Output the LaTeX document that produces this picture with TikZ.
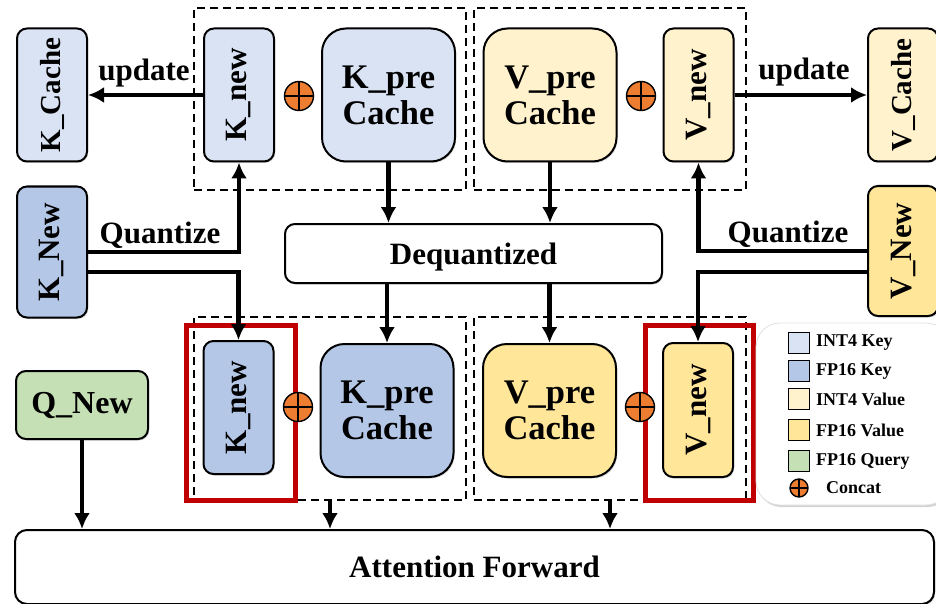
\documentclass[tikz,border=0pt]{standalone}
\usepackage{graphicx}
\usepackage{fontspec}
\setmainfont{Liberation Serif}
\usetikzlibrary{arrows.meta,shadows}

\definecolor{kint}{HTML}{DAE3F3}
\definecolor{kfp}{HTML}{B4C7E7}
\definecolor{vint}{HTML}{FFF2CC}
\definecolor{vfp}{HTML}{FFE699}
\definecolor{qfp}{HTML}{C5E0B4}
\definecolor{catorange}{HTML}{ED7D31}
\definecolor{hlred}{HTML}{C00000}

\tikzset{
  box/.style={draw, line width=2pt, rounded corners=10pt, inner sep=0pt,
    font=\bfseries\fontsize{31}{35}\selectfont,
    drop shadow={shadow xshift=1.2pt, shadow yshift=-1.5pt, opacity=0.3}},
  slim/.style={box, minimum width=70pt, minimum height=133pt},
  cache/.style={box, rounded corners=24pt, minimum width=133pt, minimum height=133pt,
    align=center, font=\bfseries\fontsize{34.5}{36}\selectfont},
  grp/.style={draw, line width=2.2pt, dash pattern=on 8pt off 5pt, inner sep=0pt},
  hl/.style={draw=hlred, line width=5pt, inner sep=0pt},
  flow/.style={line width=4.2pt, -{Latex[length=16pt,width=16pt]}},
  lab/.style={font=\bfseries\fontsize{31}{35}\selectfont, inner sep=0pt},
  cat/.style={circle, draw, line width=1.4pt, fill=catorange, minimum size=29pt, inner sep=0pt,
    path picture={\draw[line width=1.4pt] (path picture bounding box.north) -- (path picture bounding box.south)
      (path picture bounding box.west) -- (path picture bounding box.east);}},
  key/.style={draw, line width=1.4pt, minimum width=21pt, minimum height=21pt, inner sep=0pt},
  keytext/.style={anchor=west, inner sep=0pt, font=\bfseries\fontsize{18}{20}\selectfont},
}

\begin{document}
\begin{tikzpicture}[x=1pt, y=-1pt]
  \useasboundingbox (0,0) rectangle (936,604);

  % dashed groups and highlights
  \node[grp, minimum width=272pt, minimum height=182pt] (grpKQ) at (330,99) {};
  \node[grp, minimum width=272pt, minimum height=182pt] (grpVQ) at (610,99) {};
  \node[grp, minimum width=272pt, minimum height=183pt] (grpKF) at (330,408.5) {};
  \node[grp, minimum width=272pt, minimum height=183pt] (grpVF) at (610,408.5) {};
  \node[hl, minimum width=109pt, minimum height=175pt] (hlK) at (240.5,412.5) {};
  \node[hl, minimum width=108pt, minimum height=175pt] (hlV) at (699,412.5) {};

  % top row
  \node[slim, fill=kint, font=\bfseries\fontsize{29}{33}\selectfont] (kCache) at (52,95) {\rotatebox{90}{K\_Cache}};
  \node[slim, fill=kint] (kNewQ) at (239,95) {\rotatebox{90}{K\_new}};
  \node[cat] (catKQ) at (299,96) {};
  \node[cache, fill=kint] (kPreQ) at (388.5,95) {K\_pre\\Cache};
  \node[cache, fill=vint] (vPreQ) at (550,95) {V\_pre\\Cache};
  \node[cat] (catVQ) at (641,96) {};
  \node[slim, fill=vint] (vNewQ) at (698.5,95) {\rotatebox{90}{V\_new}};
  \node[slim, fill=vint, font=\bfseries\fontsize{29}{33}\selectfont] (vCache) at (903,95) {\rotatebox{90}{V\_Cache}};

  % inputs
  \node[slim, fill=kfp, minimum height=131pt] (kNewIn) at (52,252) {\rotatebox{90}{K\_New}};
  \node[slim, fill=vfp, minimum height=130pt] (vNewIn) at (903,251) {\rotatebox{90}{V\_New}};
  \node[box, fill=white, minimum width=377pt, minimum height=59pt, text depth=0pt] (deq) at (473.5,253.5) {Dequantized};

  % bottom row
  \node[slim, fill=kfp] (kNewF) at (238.5,407.5) {\rotatebox{90}{K\_new}};
  \node[cat] (catKF) at (298,407) {};
  \node[cache, fill=kfp] (kPreF) at (387,410.5) {K\_pre\\Cache};
  \node[cache, fill=vfp] (vPreF) at (549.5,410.5) {V\_pre\\Cache};
  \node[cat] (catVF) at (640,407) {};
  \node[slim, fill=vfp, minimum height=134pt] (vNewF) at (698,410) {\rotatebox{90}{V\_new}};
  \node[box, fill=qfp, minimum width=132pt, minimum height=68pt, font=\bfseries\fontsize{32}{35}\selectfont] (qNew) at (82,405) {Q\_New};
  \node[box, fill=white, rounded corners=12pt, minimum width=919pt, minimum height=74pt,
    drop shadow={opacity=0}] (attn) at (474.5,567) {Attention Forward};

  % legend
  \node[draw=black!12, line width=0.8pt, fill=white, rounded corners=24pt, minimum width=194pt,
    minimum height=182pt, drop shadow={shadow xshift=1.5pt, shadow yshift=-2pt, opacity=0.35}] (legend) at (853,414) {};
  \node[key, fill=kint] (lgKint) at (799,343) {};
  \node[keytext] (lgKintT) at (816,343) {INT4 Key};
  \node[key, fill=kfp] (lgKfp) at (799,371) {};
  \node[keytext] (lgKfpT) at (816,371) {FP16 Key};
  \node[key, fill=vint] (lgVint) at (799,399) {};
  \node[keytext] (lgVintT) at (816,399) {INT4 Value};
  \node[key, fill=vfp] (lgVfp) at (799,430) {};
  \node[keytext] (lgVfpT) at (816,430) {FP16 Value};
  \node[key, fill=qfp] (lgQfp) at (799,461) {};
  \node[keytext] (lgQfpT) at (816,461) {FP16 Query};
  \node[cat, minimum size=18pt] (lgCat) at (799,488) {};
  \node[keytext] (lgCatT) at (826,488) {Concat};

  % connectors
  \draw[flow] (kNewQ.west) -- (kCache.east);
  \draw[flow] (vNewQ.east) -- (vCache.west);
  \node[lab, anchor=base] (updK) at (144,81) {update};
  \node[lab, anchor=base] (updV) at (804,80) {update};

  \draw[flow] (kNewIn.east) -| (kNewQ.south);
  \draw[flow] ([yshift=-20pt]kNewIn.east) -| (kNewF.north);
  \draw[flow] (vNewIn.west) -| (vNewQ.south);
  \draw[flow] ([yshift=-21pt]vNewIn.west) -| (vNewF.north);
  \node[lab, anchor=base] (qtzK) at (160,243) {Quantize};
  \node[lab, anchor=base] (qtzV) at (788,242) {Quantize};

  \draw[flow] (kPreQ.south) -- (kPreQ.south |- deq.north);
  \draw[flow] (vPreQ.south) -- (vPreQ.south |- deq.north);
  \draw[flow] (deq.south -| kPreF.north) -- (kPreF.north);
  \draw[flow] (deq.south -| vPreF.north) -- (vPreF.north);

  \draw[flow] (qNew.south) -- (qNew.south |- attn.north);
  \draw[flow] (grpKF.south) -- (grpKF.south |- attn.north);
  \draw[flow] (grpVF.south) -- (grpVF.south |- attn.north);
\end{tikzpicture}
\end{document}
